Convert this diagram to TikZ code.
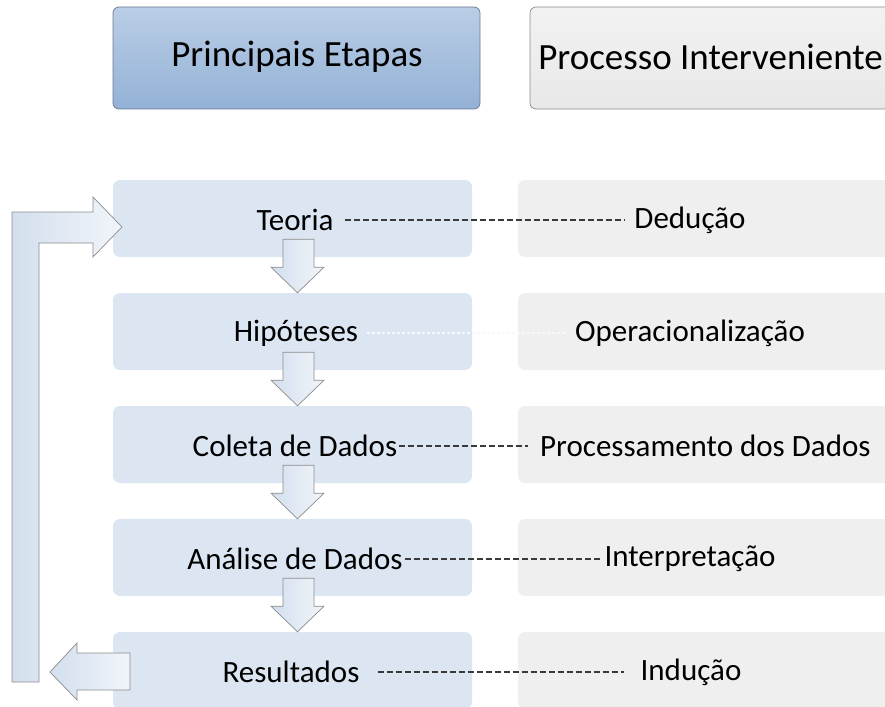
\documentclass[tikz,border=0pt]{standalone}
\usepackage{fontspec}
\setmainfont{Carlito}
\usetikzlibrary{calc}
\definecolor{hbtop}{HTML}{BACEE6}
\definecolor{hbbot}{HTML}{93B1D6}
\definecolor{hbline}{HTML}{6B7B90}
\definecolor{hgtop}{HTML}{F2F2F2}
\definecolor{hgbot}{HTML}{E8E8E8}
\definecolor{hgline}{HTML}{8A8A8A}
\definecolor{rowblue}{HTML}{DCE6F2}
\definecolor{rowgrey}{HTML}{EFEFEF}
\definecolor{arrline}{HTML}{8C8C8C}
\definecolor{arrA}{HTML}{D3DFEE}
\definecolor{arrB}{HTML}{F1F5FA}
\definecolor{dashc}{HTML}{3A3A3A}
\definecolor{dashlight}{HTML}{F6F8FB}
\begin{document}
\begin{tikzpicture}[x=1pt,y=-1pt,
  hdrblue/.style={rounded corners=6pt, top color=hbtop, bottom color=hbbot, draw=hbline, line width=0.7pt, minimum width=367pt, minimum height=102pt, inner sep=0pt},
  hdrgrey/.style={rounded corners=6pt, top color=hgtop, bottom color=hgbot, draw=hgline, line width=0.7pt, minimum width=370pt, minimum height=102pt, inner sep=0pt},
  bluebox/.style={rounded corners=7pt, fill=rowblue, minimum width=359pt, minimum height=77pt, inner sep=0pt},
  greybox/.style={rounded corners=7pt, fill=rowgrey, minimum width=380pt, minimum height=77pt, inner sep=0pt},
  hdrtext/.style={font=\fontsize{37}{41}\selectfont, inner sep=0pt, text=black},
  rowtext/.style={font=\fontsize{31}{35}\selectfont, inner sep=0pt, text=black},
  dline/.style={draw=dashc, line width=1.1pt, dash pattern=on 6pt off 3pt},
  dlight/.style={draw=dashlight, line width=1.3pt, dash pattern=on 3pt off 2pt},
  blockarrow/.style={draw=arrline, line width=0.7pt, left color=arrA, right color=arrB, line join=miter}
]
\useasboundingbox (0,0) rectangle (885,706);

% headers
\node[hdrblue] (h1) at (296.5,58) {};
\node[hdrgrey] (h2) at (715,58) {};
\node[hdrtext] (h1t) at (297,57) {Principais Etapas};
\node[hdrtext, anchor=east] (h2t) at (883,57) {Processo Interveniente};

% rows
\foreach \i/\y in {1/218.5, 2/331.5, 3/444.5, 4/557.5, 5/670.5} {
  \node[bluebox] (b\i) at (292.5,\y) {};
  \node[greybox] (g\i) at (708,\y) {};
}

% row texts
\node[rowtext] (t1) at (295,220) {Teoria};
\node[rowtext] (t2) at (296,333) {Hipóteses};
\node[rowtext] (t3) at (295,446) {Coleta de Dados};
\node[rowtext] (t4) at (295,559) {Análise de Dados};
\node[rowtext] (t5) at (291,672) {Resultados};

\node[rowtext] (p1) at (690,220) {Dedução};
\node[rowtext] (p2) at (690,333) {Operacionalização};
\node[rowtext, anchor=west] (p3) at (540,446) {Processamento dos Dados};
\node[rowtext] (p4) at (690,559) {Interpretação};
\node[rowtext] (p5) at (691,672) {Indução};

% dashed connectors
\draw[dline, shorten <=11pt, shorten >=9pt] (t1.east) -- (t1.east -| p1.west);
\draw[dlight, shorten <=9pt, shorten >=9pt] (t2.east) -- (t2.east -| p2.west);
\draw[dline, shorten <=2pt, shorten >=12pt] (t3.east) -- (t3.east -| p3.west);
\draw[dline, shorten <=2pt, shorten >=3pt] (t4.east) -- (t4.east -| p4.west);
\draw[dline, shorten <=18pt, shorten >=16pt] (t5.east) -- (t5.east -| p5.west);

% down block arrows
\foreach \a/\b in {1/2, 2/3, 3/4, 4/5} {
  \draw[blockarrow]
    ([xshift=-9.5pt,yshift=18pt]b\a.south) --
    ([xshift=-9.5pt,yshift=-10pt]b\a.south) --
    ([xshift=-21.5pt,yshift=-10pt]b\a.south) --
    ([xshift=5pt]b\b.north) --
    ([xshift=31.5pt,yshift=-10pt]b\a.south) --
    ([xshift=21.5pt,yshift=-10pt]b\a.south) --
    ([xshift=21.5pt,yshift=18pt]b\a.south) -- cycle;
}

% feedback arrow (bar up to Teoria)
\draw[blockarrow] (12,682) -- (12,212) -- (93,212) -- (93,197) -- (122,227)
  -- (93,257) -- (93,243) -- (39,243) -- (39,682) -- cycle;
% left arrow out of Resultados
\draw[blockarrow] (130,653) -- (77,653) -- (77,643) -- (50,672) -- (77,700)
  -- (77,690) -- (130,690) -- cycle;
\end{tikzpicture}
\end{document}
